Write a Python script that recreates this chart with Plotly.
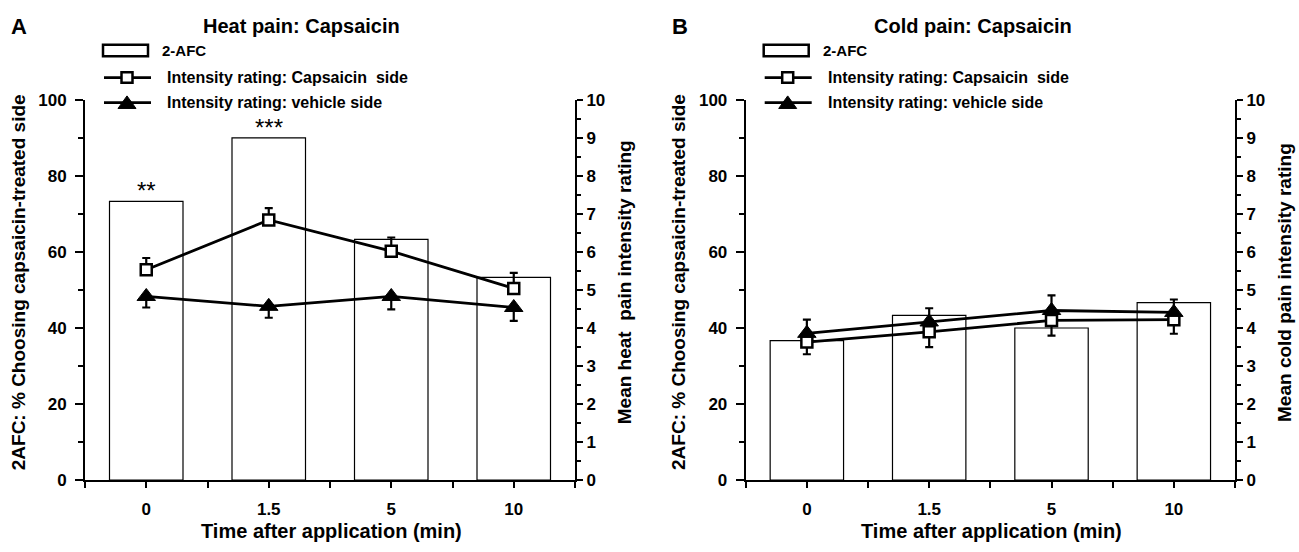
import plotly.graph_objects as go

W, H = 1299, 552

# ---------------- data ----------------
times = ["0", "1.5", "5", "10"]
xpos = [0, 1, 2, 3]

heat_afc = [73.3, 90.0, 63.3, 53.3]
heat_caps = [5.53, 6.84, 6.02, 5.04]
heat_caps_err = [0.31, 0.31, 0.36, 0.41]
heat_veh = [4.83, 4.57, 4.83, 4.54]
heat_veh_err = [0.29, 0.30, 0.34, 0.35]
heat_sig = ["**", "***", "", ""]

cold_afc = [36.7, 43.3, 40.0, 46.7]
cold_caps = [3.63, 3.90, 4.20, 4.22]
cold_caps_err = [0.32, 0.40, 0.40, 0.37]
cold_veh = [3.86, 4.16, 4.46, 4.41]
cold_veh_err = [0.36, 0.36, 0.40, 0.34]

left_ticks = [0, 20, 40, 60, 80, 100]
right_ticks = list(range(0, 11))

FONT = "Liberation Sans, Arial, Helvetica, sans-serif"


def px(x):
    return x / W


def py(y):
    return 1 - y / H


fig = go.Figure()

panels = [
    dict(afc=heat_afc, caps=heat_caps, caps_err=heat_caps_err, veh=heat_veh, veh_err=heat_veh_err,
         sig=heat_sig, x0=85, x1=575, xa="x", ya="y", ya2="y2",
         letter="A", title="Heat pain: Capsaicin", title_x=301,
         rtitle="Mean heat  pain intensity rating", veh_up=False),
    dict(afc=cold_afc, caps=cold_caps, caps_err=cold_caps_err, veh=cold_veh, veh_err=cold_veh_err,
         sig=["", "", "", ""], x0=745.7, x1=1235, xa="x2", ya="y3", ya2="y4",
         letter="B", title="Cold pain: Capsaicin", title_x=973,
         rtitle="Mean cold pain intensity rating", veh_up=True),
]

Y_TOP, Y_BOT = 94, 488

annotations = []
shapes = []


def txt(x, y, text, size, anchor="center", angle=0):
    annotations.append(dict(x=px(x), y=py(y), xref="paper", yref="paper", text=text, showarrow=False,
                            xanchor=anchor, yanchor="middle", textangle=angle,
                            font=dict(family=FONT, size=size, color="black")))


for p in panels:
    zeros = [0, 0, 0, 0]
    fig.add_trace(go.Bar(x=xpos, y=p["afc"], width=0.6, xaxis=p["xa"], yaxis=p["ya"],
                         marker=dict(color="white", line=dict(color="black", width=1.2)),
                         showlegend=False))
    # capsaicin side: open squares
    fig.add_trace(go.Scatter(
        x=xpos, y=p["caps"], xaxis=p["xa"], yaxis=p["ya2"], mode="lines+markers",
        line=dict(color="black", width=2.8),
        marker=dict(symbol="square", size=11, color="white", line=dict(color="black", width=2.5)),
        error_y=dict(type="data", symmetric=False,
                     array=zeros if p["veh_up"] else p["caps_err"],
                     arrayminus=p["caps_err"] if p["veh_up"] else zeros,
                     color="black", thickness=2.2, width=4),
        showlegend=False))
    # vehicle side: filled triangles
    fig.add_trace(go.Scatter(
        x=xpos, y=p["veh"], xaxis=p["xa"], yaxis=p["ya2"], mode="lines+markers",
        line=dict(color="black", width=2.8),
        marker=dict(symbol="triangle-up", size=16, color="black", line=dict(color="black", width=1)),
        error_y=dict(type="data", symmetric=False,
                     array=p["veh_err"] if p["veh_up"] else zeros,
                     arrayminus=zeros if p["veh_up"] else p["veh_err"],
                     color="black", thickness=2.2, width=4),
        showlegend=False))

    for xi, yi, s in zip(xpos, p["afc"], p["sig"]):
        if s:
            annotations.append(dict(x=xi, y=yi, xref=p["xa"], yref=p["ya"], text=s, showarrow=False,
                                    xanchor="center", yanchor="bottom", yshift=-5,
                                    font=dict(family=FONT, size=24, color="black")))

    off = p["x0"] - 85
    txt(19 + off, 18, "<b>%s</b>" % p["letter"], 22)
    txt(p["title_x"], 18, "<b>%s</b>" % p["title"], 20)
    txt(18 + off, 283, "<b>2AFC: % Choosing capsaicin-treated side</b>", 19, angle=-90)
    txt(624 + off, 283, "<b>%s</b>" % p["rtitle"], 19, angle=-90)
    txt(331 + off, 541, "<b>Time after application (min)</b>", 20)

    # legend
    lx0 = 103 + off
    shapes.append(dict(type="rect", xref="paper", yref="paper", x0=px(lx0), x1=px(lx0 + 45),
                       y0=py(49), y1=py(37), line=dict(color="black", width=2.5), fillcolor="white"))
    txt(lx0 + 57, 43, "<b>2-AFC</b>", 15, anchor="left")
    for yy, lab in [(71, "Intensity rating: Capsaicin  side"), (97, "Intensity rating: vehicle side")]:
        shapes.append(dict(type="line", xref="paper", yref="paper", x0=px(lx0 + 1), x1=px(lx0 + 48),
                           y0=py(yy), y1=py(yy), line=dict(color="black", width=2.8)))
        txt(lx0 + 62, yy, "<b>%s</b>" % lab, 16, anchor="left")
    cx = lx0 + 24
    shapes.append(dict(type="rect", xref="paper", yref="paper", x0=px(cx - 5.5), x1=px(cx + 5.5),
                       y0=py(76.5), y1=py(65.5), line=dict(color="black", width=2.5), fillcolor="white"))
    shapes.append(dict(type="path", xref="paper", yref="paper",
                       path="M %f,%f L %f,%f L %f,%f Z" % (px(cx - 9), py(103), px(cx + 9), py(103), px(cx), py(90)),
                       line=dict(color="black", width=1), fillcolor="black"))

axis_common = dict(showline=True, linecolor="black", linewidth=2, ticks="outside", tickcolor="black",
                   tickwidth=2, showgrid=False, zeroline=False,
                   tickfont=dict(family=FONT, size=17, color="black", weight="bold"))

for p, xname, yname, y2name in [(panels[0], "xaxis", "yaxis", "yaxis2"), (panels[1], "xaxis2", "yaxis3", "yaxis4")]:
    dom = [px(p["x0"]), px(p["x1"])]
    ydom = [py(Y_BOT), py(Y_TOP)]
    fig.layout[xname] = dict(axis_common, domain=dom, range=[-0.5, 3.5], tickmode="array",
                             tickvals=xpos, ticktext=times, ticklen=6, ticklabelstandoff=6,
                             minor=dict(tickmode="linear", tick0=-0.5, dtick=1, ticks="outside",
                                        ticklen=6, tickwidth=2, tickcolor="black"),
                             anchor=p["ya"])
    fig.layout[yname] = dict(axis_common, domain=ydom, range=[0, 100], tickmode="array", tickvals=left_ticks,
                             ticklen=8, ticklabelstandoff=5, anchor=p["xa"],
                             minor=dict(tickmode="linear", tick0=0, dtick=10, ticks="outside",
                                        ticklen=5, tickwidth=2, tickcolor="black"))
    fig.layout[y2name] = dict(axis_common, domain=ydom, range=[0, 10], tickmode="array", tickvals=right_ticks,
                              ticklen=6, side="right", overlaying=p["ya"], anchor=p["xa"],
                              minor=dict(tickmode="linear", tick0=0, dtick=0.5, ticks="outside",
                                         ticklen=4, tickwidth=2, tickcolor="black"))

fig.update_layout(width=W, height=H, margin=dict(l=0, r=0, t=0, b=0), paper_bgcolor="white",
                  plot_bgcolor="rgba(0,0,0,0)", annotations=annotations, shapes=shapes,
                  barmode="overlay", showlegend=False, font=dict(family=FONT, color="black"))

fig.write_html("out.html")
